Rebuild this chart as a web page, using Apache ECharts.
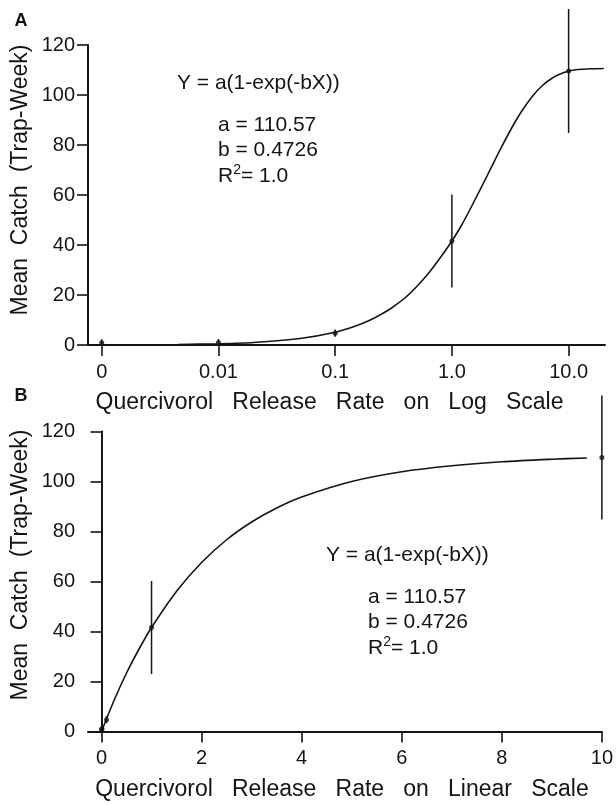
<!DOCTYPE html>
<html>
<head>
<meta charset="utf-8">
<script src="https://cdn.jsdelivr.net/npm/echarts@6/dist/echarts.min.js"></script>
<style>html,body{margin:0;padding:0;background:#fff}#c{width:616px;height:805px}</style>
</head>
<body>
<div id="c"></div>
<script>
// ---- data ----
const rates = [0, 0.01, 0.1, 1, 10];                 // release rates (linear panel)
const logPositions = [0.001, 0.01, 0.1, 1, 10];      // where each rate sits on the log panel ("0" drawn one decade below 0.01)
const logTickLabels = ['0', '0.01', '0.1', '1.0', '10.0'];
const linTicks = [0, 2, 4, 6, 8, 10];
const meanCatch = [0.9, 1.0, 4.7, 41.6, 109.6];
const ciLow = [0, 0, 3.3, 23.0, 84.8];
const ciHigh = [2.3, 2.4, 6.2, 60.2, 134.4];
// fitted curve
const fitLogX = [0.0045, 0.01, 0.02, 0.05, 0.1, 0.15, 0.2, 0.25, 0.3, 0.4, 0.5, 0.6, 0.7, 0.85, 1, 1.2, 1.5, 2, 2.5, 3, 3.5, 4, 5, 6, 7, 8, 10, 12, 16, 20];
const fitLogY = [0.2, 0.5, 1.0, 2.6, 5.1, 7.6, 10.0, 12.4, 14.6, 19.0, 23.4, 27.5, 31.4, 36.8, 41.6, 47.6, 56.1, 67.6, 76.7, 83.8, 89.4, 93.8, 100.0, 103.9, 106.3, 107.9, 109.6, 110.2, 110.5, 110.6];
// fitted curve
const fitLinX = [0, 0.25, 0.5, 0.75, 1, 1.5, 2, 2.5, 3, 3.5, 4, 5, 6, 7, 8, 9, 9.7];
const fitLinY = [0, 12.4, 23.4, 33.0, 41.6, 56.1, 67.6, 76.7, 83.8, 89.4, 93.8, 100.0, 103.9, 106.3, 107.9, 108.9, 109.4];
const yTicksMax = 120;

const FONT = '"Liberation Sans", Arial, Helvetica, sans-serif';
const INK = '#141414';

const zip = (...arrs) => arrs[0].map((_, i) => arrs.map(a => a[i]));

function errRender(params, api) {
  const x = api.value(0);
  const p1 = api.coord([x, api.value(1)]);
  const p2 = api.coord([x, api.value(2)]);
  return { type: 'line', shape: { x1: p1[0], y1: p1[1], x2: p2[0], y2: p2[1] },
           style: { stroke: INK, lineWidth: 1.5 } };
}

function logLabel(v) {
  for (let i = 0; i < logPositions.length; i++) {
    if (Math.abs(Math.log10(v) - Math.log10(logPositions[i])) < 1e-6) return logTickLabels[i];
  }
  return '';
}

const axisCommon = {
  axisLine: { lineStyle: { color: INK, width: 2 } },
  axisTick: { length: 11, lineStyle: { color: INK, width: 1.6 } },
  splitLine: { show: false },
  axisLabel: { color: INK, fontSize: 20, fontFamily: FONT }
};

const yTitle = 'Mean  Catch  (Trap-Week)';
const supRich = {
  r: { fontSize: 21, fontFamily: FONT, fill: INK, lineHeight: 24, verticalAlign: 'bottom' },
  s: { fontSize: 14, fontFamily: FONT, fill: INK, lineHeight: 24, verticalAlign: 'top' }
};

const chart = echarts.init(document.getElementById('c'), null, { renderer: 'canvas' });
chart.setOption({
  animation: false,
  backgroundColor: '#fff',
  grid: [
    { left: 88, top: 45, width: 517, height: 300 },
    { left: 88, top: 431.5, width: 516, height: 300 }
  ],
  xAxis: [
    Object.assign({}, axisCommon, {
      gridIndex: 0, type: 'log', min: 0.000763, max: 20.5,
      axisTick: Object.assign({}, axisCommon.axisTick, { customValues: logPositions }),
      axisLabel: Object.assign({}, axisCommon.axisLabel, { customValues: logPositions, margin: 17, formatter: logLabel }),
      minorTick: { show: false },
      name: 'Quercivorol   Release   Rate   on   Log   Scale',
      nameLocation: 'middle', nameGap: 46,
      nameTextStyle: { color: INK, fontSize: 23, fontFamily: FONT, padding: [0, 34, 0, 0] }
    }),
    Object.assign({}, axisCommon, {
      gridIndex: 1, type: 'value', min: -0.27, max: 10,
      axisTick: Object.assign({}, axisCommon.axisTick, { customValues: linTicks }),
      axisLabel: Object.assign({}, axisCommon.axisLabel, { customValues: linTicks, margin: 17 }),
      name: 'Quercivorol   Release   Rate   on   Linear   Scale',
      nameLocation: 'middle', nameGap: 47,
      nameTextStyle: { color: INK, fontSize: 23, fontFamily: FONT, padding: [0, 6, 0, 0] }
    })
  ],
  yAxis: [0, 1].map(g => Object.assign({}, axisCommon, {
    gridIndex: g, type: 'value', min: 0, max: yTicksMax, interval: 20,
    axisLabel: Object.assign({}, axisCommon.axisLabel, { margin: 13 })
  })),
  graphic: [
    { type: 'text', x: 21, y: 180, rotation: Math.PI / 2, style: { text: yTitle, font: '23px ' + FONT, fill: INK, align: 'center', verticalAlign: 'middle' } },
    { type: 'text', x: 21, y: 565, rotation: Math.PI / 2, style: { text: yTitle, font: '23px ' + FONT, fill: INK, align: 'center', verticalAlign: 'middle' } },
    { type: 'text', x: 21, y: 21, style: { text: 'A', font: 'bold 18px ' + FONT, fill: INK, align: 'center', verticalAlign: 'middle' } },
    { type: 'text', x: 21, y: 396, style: { text: 'B', font: 'bold 18px ' + FONT, fill: INK, align: 'center', verticalAlign: 'middle' } },
    { type: 'text', x: 177, y: 83, style: { text: 'Y = a(1-exp(-bX))', font: '21px ' + FONT, fill: INK, verticalAlign: 'middle' } },
    { type: 'text', x: 218, y: 125, style: { text: 'a = 110.57', font: '21px ' + FONT, fill: INK, verticalAlign: 'middle' } },
    { type: 'text', x: 218, y: 150, style: { text: 'b = 0.4726', font: '21px ' + FONT, fill: INK, verticalAlign: 'middle' } },
    { type: 'text', x: 218, y: 175, style: { text: '{r|R}{s|2}{r|= 1.0}', verticalAlign: 'middle', rich: supRich } },
    { type: 'text', x: 326, y: 555, style: { text: 'Y = a(1-exp(-bX))', font: '21px ' + FONT, fill: INK, verticalAlign: 'middle' } },
    { type: 'text', x: 368, y: 597, style: { text: 'a = 110.57', font: '21px ' + FONT, fill: INK, verticalAlign: 'middle' } },
    { type: 'text', x: 368, y: 622, style: { text: 'b = 0.4726', font: '21px ' + FONT, fill: INK, verticalAlign: 'middle' } },
    { type: 'text', x: 368, y: 647, style: { text: '{r|R}{s|2}{r|= 1.0}', verticalAlign: 'middle', rich: supRich } }
  ],
  series: [
    { type: 'line', xAxisIndex: 0, yAxisIndex: 0, data: zip(fitLogX, fitLogY), showSymbol: false, smooth: 0.25,
      lineStyle: { color: INK, width: 1.6 }, z: 3 },
    { type: 'custom', xAxisIndex: 0, yAxisIndex: 0, data: zip(logPositions, ciLow, ciHigh), renderItem: errRender,
      encode: { x: 0, y: [1, 2] }, z: 4 },
    { type: 'scatter', xAxisIndex: 0, yAxisIndex: 0, data: zip(logPositions, meanCatch), symbol: 'circle', symbolSize: 5,
      itemStyle: { color: INK }, z: 5 },
    { type: 'line', xAxisIndex: 1, yAxisIndex: 1, data: zip(fitLinX, fitLinY), showSymbol: false, smooth: 0.3,
      lineStyle: { color: INK, width: 1.6 }, z: 3 },
    { type: 'custom', xAxisIndex: 1, yAxisIndex: 1, data: zip(rates, ciLow, ciHigh), renderItem: errRender,
      encode: { x: 0, y: [1, 2] }, z: 4 },
    { type: 'scatter', xAxisIndex: 1, yAxisIndex: 1, data: zip(rates, meanCatch), symbol: 'circle', symbolSize: 5,
      itemStyle: { color: INK }, z: 5 }
  ]
});
</script>
</body>
</html>
